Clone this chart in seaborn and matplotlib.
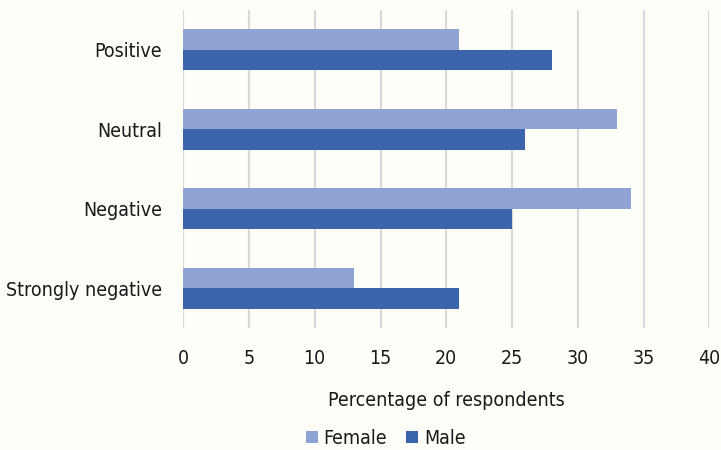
import matplotlib.pyplot as plt
import seaborn as sns
import pandas as pd

categories = ['Positive', 'Neutral', 'Negative', 'Strongly negative']
female = [21, 33, 34, 13]
male = [28, 26, 25, 21]
x_ticks = [0, 5, 10, 15, 20, 25, 30, 35, 40]

df = pd.DataFrame({
    'category': categories * 2,
    'value': female + male,
    'gender': ['Female'] * 4 + ['Male'] * 4,
})

sns.set_style('white')
plt.rcParams['font.family'] = ['DejaVu Sans']
plt.rcParams['font.stretch'] = 'condensed'
plt.rcParams['text.color'] = '#1A1A1A'
plt.rcParams['xtick.color'] = '#1A1A1A'
plt.rcParams['ytick.color'] = '#1A1A1A'

fig = plt.figure(figsize=(7.21, 4.5), dpi=100, facecolor='#FEFEF9')
ax = fig.add_axes([0.254, 0.271, 0.730, 0.707])
ax.set_facecolor('#FEFEF9')

sns.barplot(data=df, y='category', x='value', hue='gender', order=categories,
            palette={'Female': '#8FA4D4', 'Male': '#3C64AD'}, width=0.52,
            orient='h', ax=ax, saturation=1, linewidth=0)

ax.set_xlim(0, 40)
ax.set_ylim(3.5, -0.5)
ax.set_xticks(x_ticks)
ax.set_xticklabels([str(t) for t in x_ticks], fontsize=14)
ax.tick_params(axis='y', labelsize=14, length=0, pad=15)
ax.tick_params(axis='x', length=0, pad=15)
ax.xaxis.grid(True, color='#D9D9D9', linewidth=1.5)
ax.set_axisbelow(True)
for s in ax.spines.values():
    s.set_visible(False)
ax.set_ylabel('')
ax.set_xlabel('Percentage of respondents', fontsize=14, labelpad=17, color='#1A1A1A')

handles, labels = ax.get_legend_handles_labels()
ax.legend(handles, labels, loc='upper center', bbox_to_anchor=(0.385, -0.262),
          ncol=2, frameon=False, fontsize=14, handlelength=0.6, handleheight=0.6,
          handletextpad=0.3, columnspacing=1.0)

plt.savefig('out.png', dpi=100, facecolor='#FEFEF9')
